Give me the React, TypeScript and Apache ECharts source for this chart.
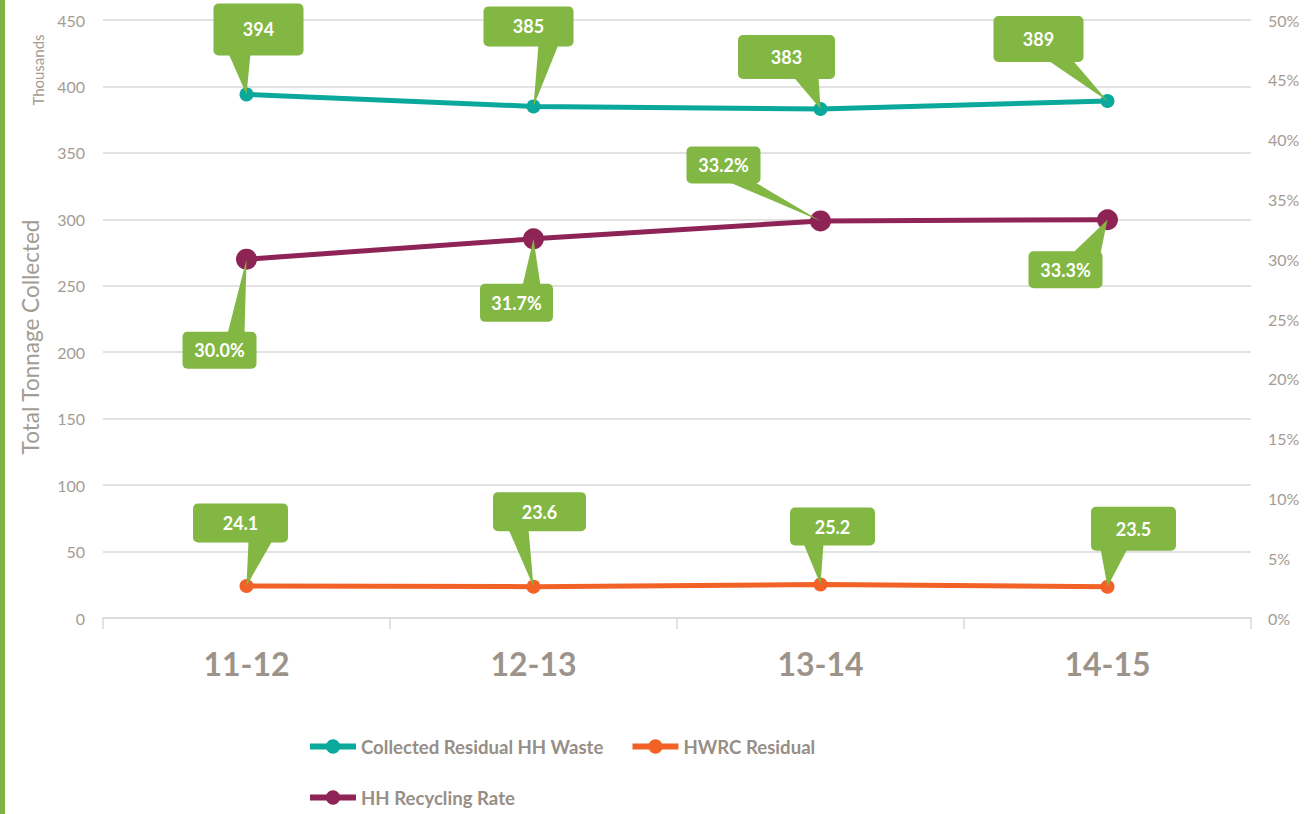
import React, { useEffect, useRef } from "react";
import * as echarts from "echarts";

// ---- data ----
const categories = ["11-12", "12-13", "13-14", "14-15"];
const collectedResidual = [394, 385, 383, 389]; // thousands of tonnes
const hwrcResidual = [24.1, 23.6, 25.2, 23.5]; // thousands of tonnes
const recyclingRate = [30.0, 31.7, 33.2, 33.3]; // percent

const leftMin = 0;
const leftMax = 450;
const leftInterval = 50;
const rightMin = 0;
const rightMax = 50;
const rightInterval = 5;

// ---- callout layout (offsets of box centre from the point, box size, pointer base) ----
const collectedCallouts = [
  { dx: 12, dy: -65, w: 90, h: 52, b0: -30, b1: -8 },
  { dx: -5, dy: -80, w: 90, h: 40, b0: 10, b1: 30 },
  { dx: -34, dy: -52, w: 97, h: 44, b0: 7, b1: 32 },
  { dx: -69, dy: -62, w: 90, h: 46, b0: 9, b1: 34 },
];
const rateCallouts = [
  { dx: -27, dy: 91, w: 74, h: 37, b0: 8, b1: 25 },
  { dx: -17, dy: 64, w: 73, h: 38, b0: 6, b1: 24 },
  { dx: -97, dy: -56, w: 74, h: 37, b0: 4, b1: 30 },
  { dx: -42, dy: 50, w: 74, h: 37, b0: 7, b1: 35 },
];
const hwrcCallouts = [
  { dx: -6, dy: -63, w: 95, h: 39, b0: 8, b1: 32 },
  { dx: 6, dy: -75, w: 93, h: 39, b0: -31, b1: -11 },
  { dx: 12, dy: -58, w: 85, h: 38, b0: -29, b1: -9 },
  { dx: 26, dy: -58, w: 85, h: 44, b0: -33, b1: -6 },
];

const TEAL = "#0BA89C";
const ORANGE = "#F26125";
const PURPLE = "#8E2356";
const CALLOUT = "#82B743";
const GREY = "#A39C94";
const LEGEND_GREY = "#978E86";
const FONT = "Lato, 'Open Sans', sans-serif";

function makeCallout(
  name: string,
  values: number[],
  layout: typeof collectedCallouts,
  fmt: (v: number) => string,
  yAxisIndex: number
) {
  return {
    type: "custom",
    name,
    yAxisIndex,
    z: 10,
    silent: true,
    data: values.map((v, i) => [i, v]),
    encode: { x: 0, y: 1 },
    renderItem: (params: any, api: any) => {
      const i = params.dataIndex;
      const val = api.value(1);
      const pt = api.coord([api.value(0), val]);
      const c = layout[i];
      const cx = pt[0] + c.dx;
      const cy = pt[1] + c.dy;
      const left = cx - c.w / 2;
      const top = cy - c.h / 2;
      const edgeY = c.dy < 0 ? top + c.h - 2 : top + 2;
      return {
        type: "group",
        children: [
          {
            type: "polygon",
            shape: {
              points: [
                [cx + c.b0, edgeY],
                [cx + c.b1, edgeY],
                [pt[0], pt[1]],
              ],
            },
            style: { fill: CALLOUT },
          },
          {
            type: "rect",
            shape: { x: left, y: top, width: c.w, height: c.h, r: 5 },
            style: { fill: CALLOUT },
          },
          {
            type: "text",
            style: {
              text: fmt(values[i]),
              x: cx,
              y: cy,
              align: "center",
              verticalAlign: "middle",
              textAlign: "center",
              textVerticalAlign: "middle",
              fill: "#ffffff",
              fontSize: 18,
              fontWeight: "bold",
              fontFamily: FONT,
            },
          },
        ],
      };
    },
  };
}

export default function App() {
  const ref = useRef<HTMLDivElement>(null);

  useEffect(() => {
    if (!ref.current) return;
    const chart = echarts.init(ref.current, null, { renderer: "svg" });
    const legendText = { color: LEGEND_GREY, fontSize: 18.6, fontWeight: "bold", fontFamily: FONT };
    const option: any = {
      animation: false,
      backgroundColor: "#ffffff",
      grid: { left: 103, right: 62, top: 20, bottom: 196 },
      xAxis: {
        type: "category",
        data: categories,
        boundaryGap: true,
        axisLine: { show: true, lineStyle: { color: "#D9D9D9", width: 1.5 } },
        axisTick: { show: true, length: 11, lineStyle: { color: "#D9D9D9", width: 1.5 } },
        axisLabel: {
          color: "#9C948B",
          fontSize: 32,
          fontWeight: "bold",
          fontFamily: FONT,
          margin: 29,
        },
      },
      yAxis: [
        {
          type: "value",
          min: leftMin,
          max: leftMax,
          interval: leftInterval,
          axisLine: { show: false },
          axisTick: { show: false },
          splitLine: { lineStyle: { color: "#D9D9D9", width: 1.5 } },
          axisLabel: { color: GREY, fontSize: 16, fontFamily: FONT, margin: 18 },
        },
        {
          type: "value",
          min: rightMin,
          max: rightMax,
          interval: rightInterval,
          position: "right",
          axisLine: { show: false },
          axisTick: { show: false },
          splitLine: { show: false },
          axisLabel: {
            color: GREY,
            fontSize: 16,
            fontFamily: FONT,
            margin: 17,
            formatter: "{value}%",
          },
        },
      ],
      legend: [
        {
          left: 307,
          top: 737,
          padding: 0,
          itemWidth: 46,
          itemHeight: 18,
          itemGap: 26,
          lineStyle: { width: 6 },
          data: ["Collected Residual HH Waste", "HWRC Residual"],
          textStyle: legendText,
        },
        {
          left: 307,
          top: 788,
          padding: 0,
          itemWidth: 46,
          itemHeight: 18,
          lineStyle: { width: 6 },
          data: ["HH Recycling Rate"],
          textStyle: legendText,
        },
      ],
      graphic: [
        {
          type: "rect",
          shape: { x: 0, y: 0, width: 5, height: 814 },
          style: { fill: "#7CB342" },
        },
        {
          type: "text",
          x: 30,
          y: 337,
          rotation: Math.PI / 2,
          style: {
            text: "Total Tonnage Collected",
            align: "center",
            verticalAlign: "middle",
            textAlign: "center",
            textVerticalAlign: "middle",
            fill: GREY,
            fontSize: 22.5,
            fontFamily: FONT,
          },
        },
        {
          type: "text",
          x: 38,
          y: 70,
          rotation: Math.PI / 2,
          style: {
            text: "Thousands",
            align: "center",
            verticalAlign: "middle",
            textAlign: "center",
            textVerticalAlign: "middle",
            fill: GREY,
            fontSize: 15,
            fontFamily: FONT,
          },
        },
      ],
      series: [
        {
          type: "line",
          name: "Collected Residual HH Waste",
          data: collectedResidual,
          yAxisIndex: 0,
          symbol: "circle",
          symbolSize: 14,
          lineStyle: { color: TEAL, width: 5 },
          itemStyle: { color: TEAL },
          z: 3,
        },
        {
          type: "line",
          name: "HWRC Residual",
          data: hwrcResidual,
          yAxisIndex: 0,
          symbol: "circle",
          symbolSize: 14,
          lineStyle: { color: ORANGE, width: 5 },
          itemStyle: { color: ORANGE },
          z: 3,
        },
        {
          type: "line",
          name: "HH Recycling Rate",
          data: recyclingRate,
          yAxisIndex: 1,
          symbol: "circle",
          symbolSize: 21,
          lineStyle: { color: PURPLE, width: 5 },
          itemStyle: { color: PURPLE },
          z: 3,
        },
        makeCallout("callout-collected", collectedResidual, collectedCallouts, (v) => String(v), 0),
        makeCallout("callout-hwrc", hwrcResidual, hwrcCallouts, (v) => v.toFixed(1), 0),
        makeCallout("callout-rate", recyclingRate, rateCallouts, (v) => v.toFixed(1) + "%", 1),
      ],
    };
    chart.setOption(option);
    return () => chart.dispose();
  }, []);

  return (
    <div
      ref={ref}
      style={{ position: "fixed", left: 0, top: 0, width: 1313, height: 814 }}
    />
  );
}
